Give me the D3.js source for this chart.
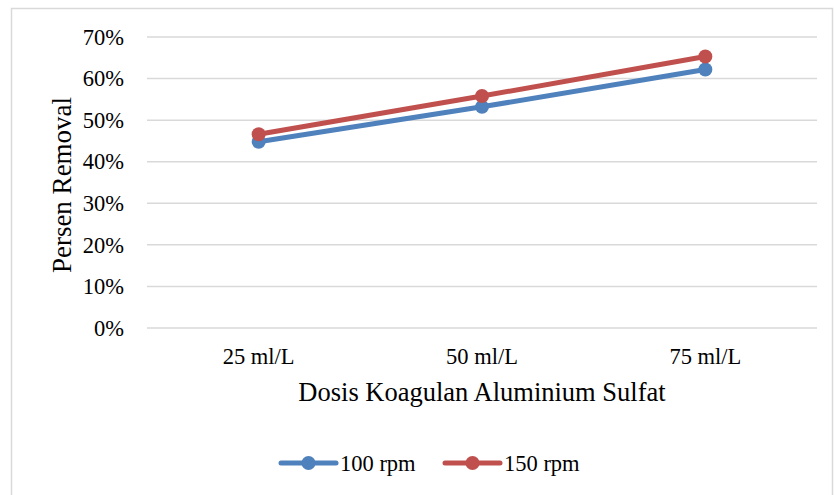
<!DOCTYPE html>
<html>
<head>
<meta charset="utf-8">
<script src="https://cdn.jsdelivr.net/npm/d3@7"></script>
<style>
body { margin: 0; background: #fff; }
text { font-family: "Liberation Serif", "Times New Roman", serif; fill: #000; }
</style>
</head>
<body>
<div id="chart"></div>
<script>
// data
var categories = ["25 ml/L", "50 ml/L", "75 ml/L"];
var rpm100 = [0.448, 0.532, 0.622];
var rpm150 = [0.466, 0.558, 0.653];
var seriesNames = ["100 rpm", "150 rpm"];
var seriesColors = ["#4f81bd", "#c0504d"];
var yTicks = [0, 0.1, 0.2, 0.3, 0.4, 0.5, 0.6, 0.7];

var series = [
	{name: seriesNames[0], color: seriesColors[0], values: rpm100},
	{name: seriesNames[1], color: seriesColors[1], values: rpm150}
];

var width = 834, height = 495;
var svg = d3.select("#chart").append("svg")
	.attr("width", width).attr("height", height);

// chart border
svg.append("rect")
	.attr("x", 11.5).attr("y", 8.5)
	.attr("width", 821).attr("height", 500)
	.attr("fill", "none").attr("stroke", "#d9d9d9").attr("stroke-width", 1.5);

var x = d3.scaleBand().domain(categories).range([147, 817]);
var y = d3.scaleLinear().domain([0, 0.7]).range([328, 37]);

// gridlines
svg.selectAll("line.grid")
	.data(yTicks)
	.enter()
	.append("line")
	.attr("x1", 147).attr("x2", 817)
	.attr("y1", function(d) { return y(d); })
	.attr("y2", function(d) { return y(d); })
	.attr("stroke", "#d9d9d9").attr("stroke-width", 1.5);

// y axis
var yAxis = d3.axisLeft(y).tickValues(yTicks).tickFormat(d3.format(".0%")).tickSize(0).tickPadding(0);
var gy = svg.append("g").attr("transform", "translate(124,0)").call(yAxis);
gy.select(".domain").remove();
gy.selectAll("text").attr("font-size", "22.5px").attr("font-family", "Liberation Serif").attr("fill", "#000");

// x axis
var xAxis = d3.axisBottom(x).tickSize(0).tickPadding(0);
var gx = svg.append("g").attr("transform", "translate(0,348)").call(xAxis);
gx.select(".domain").remove();
gx.selectAll("text").attr("font-size", "22.5px").attr("font-family", "Liberation Serif").attr("fill", "#000");

// axis titles
svg.append("text")
	.attr("x", 482).attr("y", 401)
	.attr("text-anchor", "middle")
	.attr("font-size", "26.5px")
	.text("Dosis Koagulan Aluminium Sulfat");

svg.append("text")
	.attr("transform", "translate(71,185) rotate(-90)")
	.attr("text-anchor", "middle")
	.attr("font-size", "27px")
	.text("Persen Removal");

// lines
var line = d3.line()
	.x(function(d, i) { return x(categories[i]) + x.bandwidth() / 2; })
	.y(function(d) { return y(d); });

series.forEach(function(s) {
	svg.append("path")
		.datum(s.values)
		.attr("d", line)
		.attr("fill", "none")
		.attr("stroke", s.color)
		.attr("stroke-width", 5)
		.attr("stroke-linejoin", "round");
	svg.selectAll("circle.s" + s.name.replace(" ", ""))
		.data(s.values)
		.enter()
		.append("circle")
		.attr("cx", function(d, i) { return x(categories[i]) + x.bandwidth() / 2; })
		.attr("cy", function(d) { return y(d); })
		.attr("r", 7)
		.attr("fill", s.color);
});

// legend
var legendX = [281, 445];
series.forEach(function(s, i) {
	var g = svg.append("g").attr("transform", "translate(" + legendX[i] + ",463)");
	g.append("line")
		.attr("x1", 0).attr("x2", 55)
		.attr("stroke", s.color).attr("stroke-width", 5).attr("stroke-linecap", "round");
	g.append("circle").attr("cx", 27.5).attr("r", 7).attr("fill", s.color);
	g.append("text").attr("x", 59).attr("y", 8).attr("font-size", "22.5px").text(s.name);
});
</script>
</body>
</html>
